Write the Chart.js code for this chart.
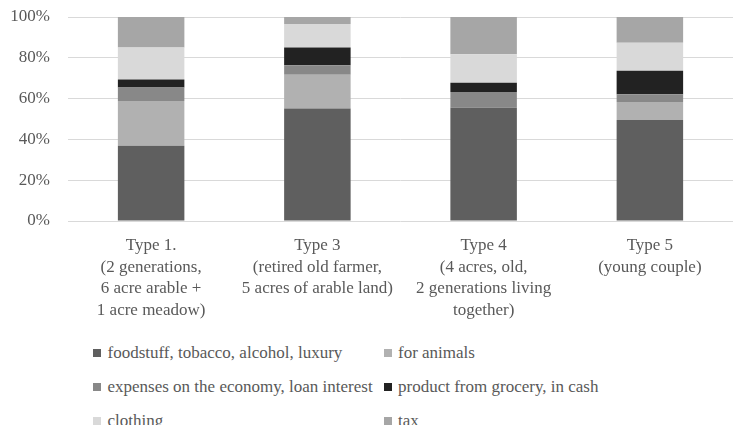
<!DOCTYPE html>
<html lang="en">
<head>
  <meta charset="UTF-8" />
  <title>Household expenses by farm type</title>
  <script src="https://cdn.jsdelivr.net/npm/chart.js"></script>
  <style>
    html, body { margin: 0; padding: 0; background: #fff; }
    #wrap { position: relative; width: 748px; height: 425px; overflow: hidden; }
    #chartBox { position: absolute; left: 0; top: 0; width: 748px; height: 330px; }
    #legend {
      position: absolute; left: 93px; top: 336px;
      display: grid; grid-template-columns: 290.5px auto; grid-auto-rows: 34px;
      font-family: "Liberation Serif", "DejaVu Serif", serif; font-size: 17px; color: #595959;
    }
    .item { display: flex; align-items: center; white-space: nowrap; }
    .box { width: 8px; height: 8px; margin-right: 6.5px; flex: none; }
  </style>
</head>
<body>
  <div id="wrap">
    <div id="chartBox"><canvas id="chart"></canvas></div>
    <div id="legend"></div>
  </div>

  <script>
    // categories (one label per line)
    const categories = [
      ["Type 1.", "(2 generations,", "6 acre arable +", "1 acre meadow)"],
      ["Type 3", "(retired old farmer,", "5 acres of arable land)"],
      ["Type 4", "(4 acres, old,", "2 generations living", "together)"],
      ["Type 5", "(young couple)"]
    ];

    const seriesNames = [
      "foodstuff, tobacco, alcohol, luxury",
      "for animals",
      "expenses on the economy, loan interest",
      "product from grocery, in cash",
      "clothing",
      "tax"
    ];

    // share of expenses, %, per type
    const foodstuff = [36.9, 55.2, 55.5, 49.5];
    const animals   = [21.9, 16.5, 0.0, 8.8];
    const economy   = [6.7, 4.7, 7.7, 3.8];
    const grocery   = [3.9, 8.6, 4.6, 11.6];
    const clothing  = [15.7, 11.6, 13.9, 13.7];
    const tax       = [14.9, 3.4, 18.3, 12.6];

    const yTicks = [0, 20, 40, 60, 80, 100];

    const colors = ["#5f5f5f", "#b1b1b1", "#888888", "#222222", "#d9d9d9", "#a6a6a6"];

    const series = [foodstuff, animals, economy, grocery, clothing, tax];
    // 100% stacked: turn each column into shares of its total
    const totals = categories.map((c, i) => series.reduce((s, arr) => s + arr[i], 0));
    const datasets = series.map((arr, k) => ({
      label: seriesNames[k],
      data: arr.map((v, i) => v / totals[i] * 100),
      backgroundColor: colors[k],
      borderWidth: 0,
      categoryPercentage: 1,
      barPercentage: 0.4
    }));

    const font = { family: "'Liberation Serif', 'DejaVu Serif', serif", size: 17, lineHeight: 1.265 };

    const chart = new Chart(document.getElementById("chart"), {
      type: "bar",
      data: { labels: categories, datasets: datasets },
      options: {
        responsive: true,
        maintainAspectRatio: false,
        animation: false,
        layout: { padding: { top: 17, left: 10, right: 15, bottom: 0 } },
        plugins: { legend: { display: false }, tooltip: { enabled: false } },
        scales: {
          x: {
            stacked: true,
            grid: { display: false, drawTicks: false },
            border: { display: false },
            ticks: { color: "#595959", font: font, padding: 14, maxRotation: 0, autoSkip: false },
            afterFit: s => { s.height = 109; }
          },
          y: {
            stacked: true,
            min: 0,
            max: 100,
            afterBuildTicks: s => { s.ticks = yTicks.map(v => ({ value: v })); },
            grid: { color: "#d9d9d9", lineWidth: 1, drawTicks: false },
            border: { display: false },
            ticks: { color: "#595959", font: font, padding: 18, callback: v => v + "%" },
            afterFit: s => { s.width = 58; s.paddingTop = 0; s.paddingBottom = 0; }
          }
        }
      }
    });

    // legend in two columns, built from the chart's datasets
    const legend = document.getElementById("legend");
    chart.data.datasets.forEach(ds => {
      const item = document.createElement("div");
      item.className = "item";
      const box = document.createElement("span");
      box.className = "box";
      box.style.background = ds.backgroundColor;
      item.appendChild(box);
      item.appendChild(document.createTextNode(ds.label));
      legend.appendChild(item);
    });
  </script>
</body>
</html>
